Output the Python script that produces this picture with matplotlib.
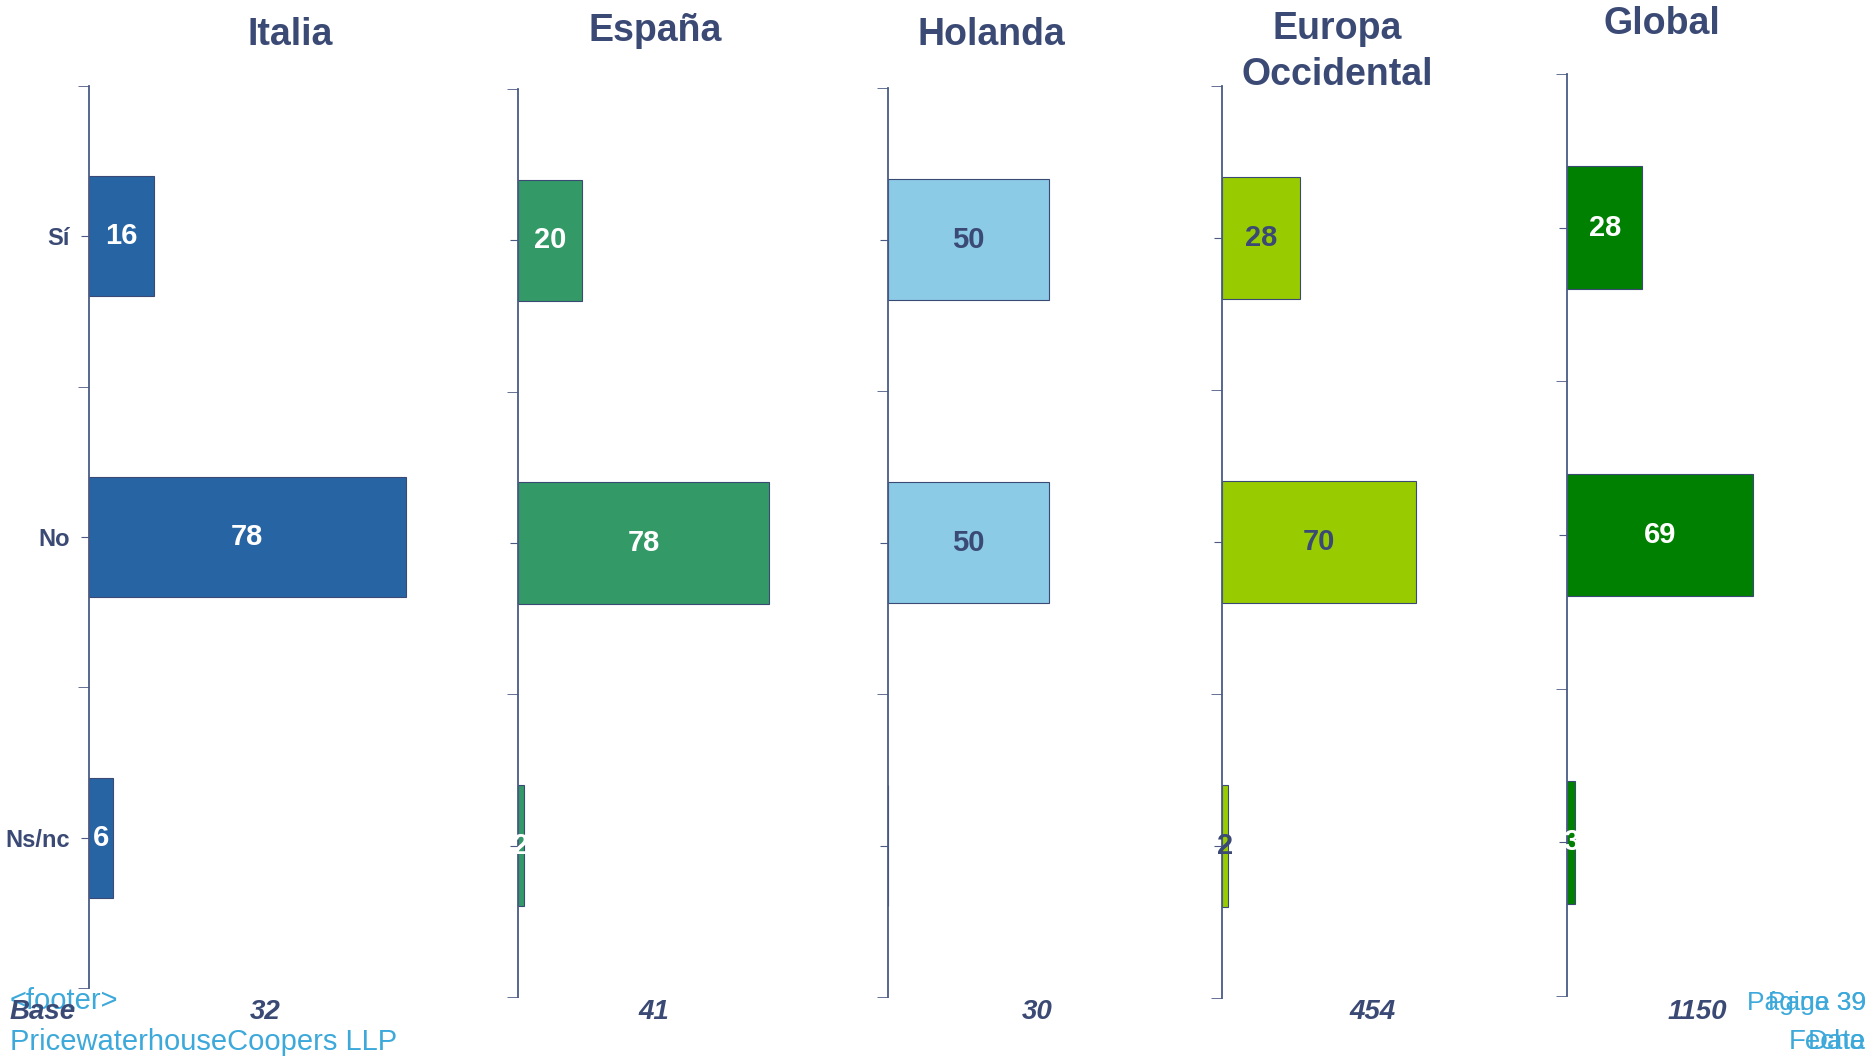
import matplotlib.pyplot as plt

plt.rcParams["font.family"] = ["Liberation Sans", "DejaVu Sans"]

categories = ["Sí", "No", "Ns/nc"]
regions = ["Italia", "España", "Holanda", "Europa\nOccidental", "Global"]
values = {
    "Italia": [16, 78, 6],
    "España": [20, 78, 2],
    "Holanda": [50, 50, 0],
    "Europa\nOccidental": [28, 70, 2],
    "Global": [28, 69, 3],
}
bases = [32, 41, 30, 454, 1150]

bar_colors = ["#2764A4", "#339966", "#8CCBE6", "#99CC00", "#008000"]
label_colors = ["white", "white", "#3B4A75", "#3B4A75", "white"]
navy = "#3B4A75"
footer_blue = "#3DA9DB"

W, H = 1867, 1063
# left, top, bottom, width in pixels
boxes = [
    (89, 86, 988, 406),
    (518, 89, 997, 322),
    (888, 88, 997, 321),
    (1222, 86, 998, 277),
    (1567, 74, 996, 269),
]
title_pos = [(290, 35), (655, 31), (991, 35), (1337, 52), (1662, 24)]
base_x = [265, 654, 1037, 1373, 1697]

fig = plt.figure(figsize=(W / 100, H / 100), dpi=100)

for i, region in enumerate(regions):
    left, top, bottom, width = boxes[i]
    ax = fig.add_axes([left / W, 1 - bottom / H, width / W, (bottom - top) / H])
    vals = values[region]
    ax.barh(range(3), vals, height=0.4, color=bar_colors[i],
            edgecolor=navy, linewidth=0.8)
    for j, v in enumerate(vals):
        if v == 0:
            continue
        ax.text(v / 2, j, str(v), ha="center", va="center", fontsize=21,
                fontweight="bold", color=label_colors[i])
    ax.set_xlim(0, 100)
    ax.set_ylim(2.5, -0.5)
    for s in ["top", "right", "bottom"]:
        ax.spines[s].set_visible(False)
    ax.spines["left"].set_color("#4A5A85")
    ax.spines["left"].set_linewidth(1.3)
    ax.set_xticks([])
    ax.set_yticks([0, 1, 2])
    ax.set_yticks([-0.5, 0.5, 1.5, 2.5], minor=True)
    ax.tick_params(axis="y", which="major", length=6, color="#4A5A85", pad=8)
    ax.tick_params(axis="y", which="minor", length=8, color="#4A5A85")
    if i == 0:
        ax.set_yticklabels(categories, fontsize=17, fontweight="bold", color=navy)
    else:
        ax.set_yticklabels([])
    ax.patch.set_alpha(0)

    tx, ty = title_pos[i]
    fig.text(tx / W, 1 - ty / H, region, ha="center", va="center", fontsize=27,
             fontweight="bold", color=navy, linespacing=1.35)
    fig.text(base_x[i] / W, 1 - 1012 / H, str(bases[i]), ha="center", va="center",
             fontsize=20, fontweight="bold", style="italic", color=navy)

fig.text(10 / W, 1 - 1001 / H, "<footer>", ha="left", va="center", fontsize=21,
         color=footer_blue)
fig.text(43 / W, 1 - 1012 / H, "Base", ha="center", va="center", fontsize=20,
         fontweight="bold", style="italic", color=navy)
fig.text(10 / W, 1 - 1042 / H, "PricewaterhouseCoopers LLP", ha="left",
         va="center", fontsize=21, color=footer_blue)
fig.text(1866 / W, 1 - 1003 / H, "Página 39", ha="right", va="center",
         fontsize=19, color=footer_blue)
fig.text(1866 / W, 1 - 1003 / H, "Page 39", ha="right", va="center",
         fontsize=19, color=footer_blue)
fig.text(1866 / W, 1 - 1042 / H, "Fecha", ha="right", va="center",
         fontsize=20, color=footer_blue)
fig.text(1866 / W, 1 - 1042 / H, "Date", ha="right", va="center",
         fontsize=20, color=footer_blue)

fig.savefig("out.png", dpi=100)
